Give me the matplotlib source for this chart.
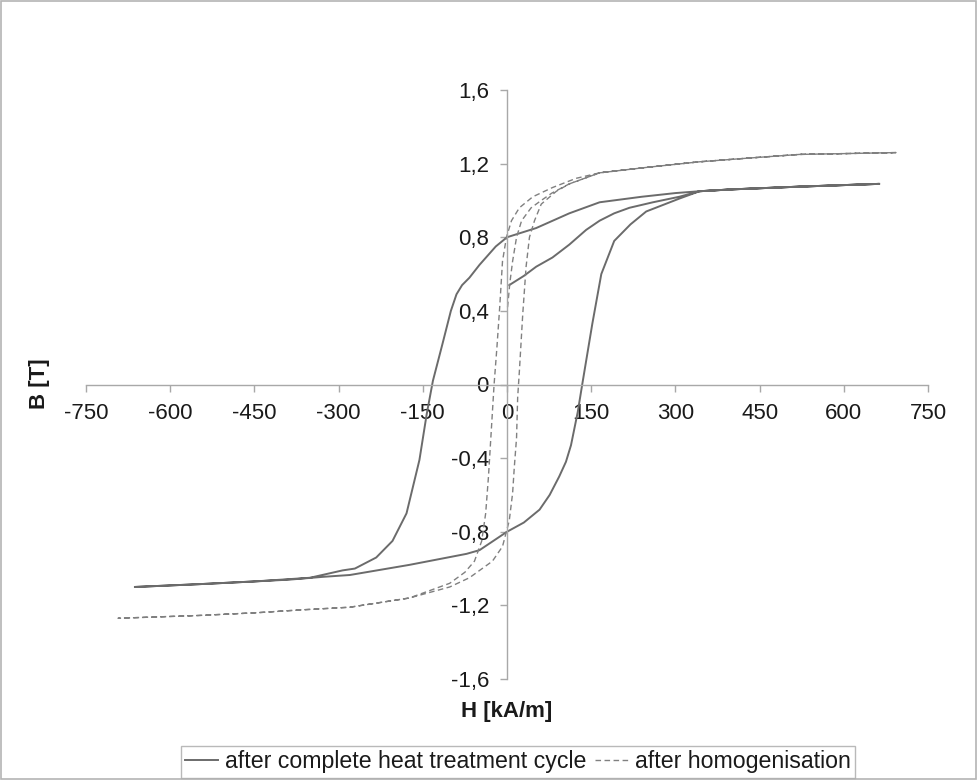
import numpy as np
import matplotlib
matplotlib.use('Agg')
import matplotlib.pyplot as plt
from matplotlib.patches import Rectangle

# after complete heat treatment cycle (solid): initial curve, descending, ascending
solid_init_h = [4, 30, 52, 81, 111, 141, 165, 191, 218, 260, 307, 343, 400, 521, 663]
solid_init_b = [0.54, 0.59, 0.64, 0.69, 0.76, 0.84, 0.89, 0.93, 0.96, 0.99, 1.02, 1.05, 1.06, 1.075, 1.09]
solid_down_h = [663, 521, 400, 343, 300, 240, 165, 111, 52, 0, -20, -49, -67, -80, -90, -100, -115, -132,
                -143, -156, -179, -204, -233, -271, -293, -351, -450, -550, -663]
solid_down_b = [1.09, 1.075, 1.06, 1.05, 1.04, 1.02, 0.99, 0.93, 0.85, 0.80, 0.75, 0.65, 0.58, 0.54, 0.49,
                0.40, 0.22, 0.02, -0.16, -0.41, -0.70, -0.85, -0.94, -1.00, -1.01, -1.05, -1.07, -1.085, -1.10]
solid_up_h = [-663, -550, -450, -387, -328, -280, -174, -72, -49, 0, 30, 58, 76, 93, 105, 114, 126, 134,
              152, 168, 191, 220, 248, 307, 343, 400, 521, 663]
solid_up_b = [-1.10, -1.085, -1.07, -1.06, -1.045, -1.035, -0.98, -0.92, -0.90, -0.80, -0.75, -0.68, -0.60,
              -0.50, -0.42, -0.33, -0.15, 0.0, 0.33, 0.60, 0.78, 0.87, 0.94, 1.01, 1.05, 1.06, 1.075, 1.09]

# after homogenisation (dashed)
dash_init_h = [1, 5, 10, 17, 26, 43, 61, 80, 111, 165, 250, 343, 430, 521, 610, 693]
dash_init_b = [0.42, 0.55, 0.67, 0.80, 0.89, 0.96, 1.00, 1.04, 1.09, 1.15, 1.18, 1.21, 1.23, 1.25, 1.255, 1.26]
dash_down_h = [693, 610, 521, 430, 343, 250, 165, 123, 81, 46, 22, 8, -1, -8, -13, -18, -23, -29, -33,
               -38, -45, -58, -75, -102, -174, -280, -370, -446, -550, -693]
dash_down_b = [1.26, 1.255, 1.25, 1.23, 1.21, 1.18, 1.15, 1.12, 1.07, 1.02, 0.96, 0.89, 0.80, 0.67, 0.42,
               0.20, 0.0, -0.30, -0.50, -0.70, -0.85, -0.96, -1.02, -1.08, -1.16, -1.21, -1.225, -1.24,
               -1.255, -1.27]
dash_up_h = [-693, -550, -446, -370, -280, -174, -102, -67, -26, -8, 4, 10, 13, 17, 19, 22, 28, 34, 40,
             49, 61, 88, 111, 165, 250, 343, 430, 521, 610, 693]
dash_up_b = [-1.27, -1.255, -1.24, -1.225, -1.21, -1.16, -1.10, -1.05, -0.96, -0.88, -0.74, -0.59, -0.45,
             -0.29, -0.07, 0.07, 0.38, 0.64, 0.80, 0.89, 0.98, 1.05, 1.09, 1.15, 1.18, 1.21, 1.23, 1.25,
             1.255, 1.26]

x_ticks = [-750, -600, -450, -300, -150, 0, 150, 300, 450, 600, 750]
x_tick_labels = ['-750', '-600', '-450', '-300', '-150', '0', '150', '300', '450', '600', '750']
y_ticks = [-1.6, -1.2, -0.8, -0.4, 0, 0.4, 0.8, 1.2, 1.6]
y_tick_labels = ['-1,6', '-1,2', '-0,8', '-0,4', '0', '0,4', '0,8', '1,2', '1,6']

plt.rcParams['font.family'] = ['Liberation Sans', 'DejaVu Sans']
axis_gray = '#a8a8a8'

fig = plt.figure(figsize=(9.77, 7.8), dpi=100)
ax = fig.add_axes([86 / 977, 1 - 679 / 780, (928 - 86) / 977, (679 - 90) / 780])

ax.plot(np.concatenate([solid_init_h, solid_down_h, solid_up_h]),
        np.concatenate([solid_init_b, solid_down_b, solid_up_b]),
        color='#6b6b6b', lw=1.4, label='after complete heat treatment cycle')
ax.plot(np.concatenate([dash_init_h, dash_down_h, dash_up_h]),
        np.concatenate([dash_init_b, dash_down_b, dash_up_b]),
        color='#808080', lw=1.0, ls=(0, (4, 2.5)), label='after homogenisation')

ax.set_xlim(-750, 750)
ax.set_ylim(-1.6, 1.6)
ax.spines['left'].set_position('zero')
ax.spines['bottom'].set_position('zero')
ax.spines['top'].set_visible(False)
ax.spines['right'].set_visible(False)
for s in ['left', 'bottom']:
    ax.spines[s].set_color(axis_gray)
    ax.spines[s].set_linewidth(1.0)

ax.set_xticks(x_ticks)
ax.set_xticklabels(x_tick_labels)
ax.set_yticks(y_ticks)
ax.set_yticklabels(y_tick_labels)
ax.tick_params(direction='out', length=5, width=1, color=axis_gray, labelsize=16,
               labelcolor='#1a1a1a', pad=8)

fig.text(40 / 977, 1 - 384 / 780, 'B [T]', rotation=90, ha='center', va='center',
         fontsize=16, fontweight='bold', color='#1a1a1a')
fig.text(507 / 977, 1 - 712 / 780, 'H [kA/m]', ha='center', va='center',
         fontsize=16, fontweight='bold', color='#1a1a1a')

leg = fig.legend(loc='lower center', bbox_to_anchor=(518 / 977, 2 / 780), ncol=2, frameon=True,
                 fancybox=False, edgecolor=axis_gray, fontsize=16.7, handlelength=1.4,
                 handletextpad=0.3, columnspacing=0.4, borderpad=0.2, borderaxespad=0)
leg.get_frame().set_linewidth(1.0)
for t in leg.get_texts():
    t.set_color('#1a1a1a')

fig.patches.append(Rectangle((0.001, 0.001), 0.998, 0.998, transform=fig.transFigure,
                             fill=False, edgecolor='#b4b4b4', lw=1.2))

fig.savefig('out.png', dpi=100)
